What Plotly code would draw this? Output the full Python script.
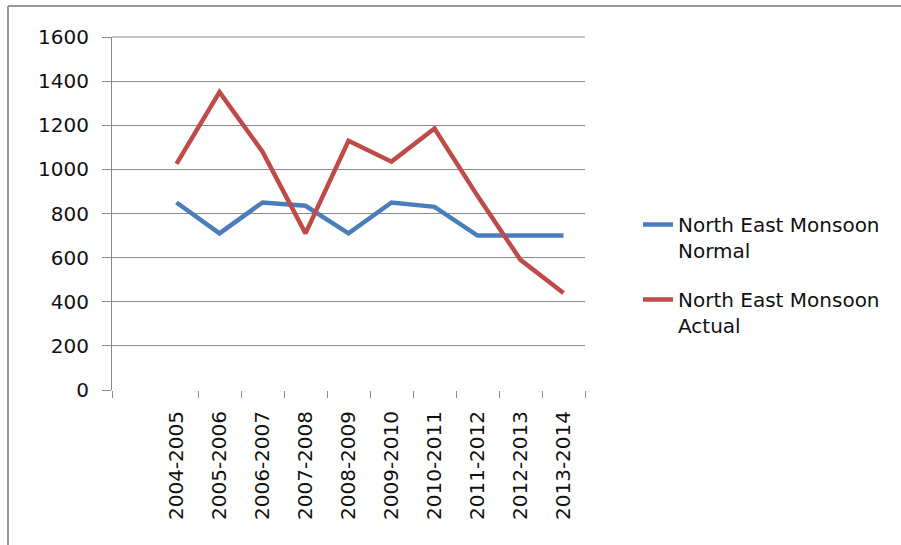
import plotly.graph_objects as go

seasons = ["2004-2005", "2005-2006", "2006-2007", "2007-2008", "2008-2009",
           "2009-2010", "2010-2011", "2011-2012", "2012-2013", "2013-2014"]
normal = [850, 710, 850, 835, 710, 850, 830, 700, 700, 700]
actual = [1025, 1350, 1080, 710, 1130, 1035, 1185, 880, 590, 440]

# numeric positions (first slot left empty as in the original chart)
xpos = list(range(1, len(seasons) + 1))

W, H = 901, 545
L, R, T, B = 112, 316, 37, 155
pw, ph = W - L - R, H - T - B

def px_x(x):
    return (x - L) / pw

def px_y(y):
    return (H - B - y) / ph

grid = "#8a8a8a"
font = "DejaVu Sans"

fig = go.Figure()
fig.add_trace(go.Scatter(x=xpos, y=normal, mode="lines",
                         name="North East Monsoon<br>Normal",
                         line=dict(color="#4A7EBB", width=4.5),
                         legendgroup="a"))
fig.add_trace(go.Scatter(x=xpos, y=actual, mode="lines",
                         name="North East Monsoon<br>Actual",
                         line=dict(color="#BE4B48", width=4.5),
                         legendgroup="b"))
# invisible trace for boundary tick marks on an overlay axis
fig.add_trace(go.Scatter(x=[-0.5], y=[0], xaxis="x2", mode="markers",
                         marker=dict(opacity=0), showlegend=False,
                         hoverinfo="skip"))

tick_bounds = [-0.5] + [i + 0.5 for i in range(1, len(seasons) + 1)]

fig.update_layout(
    width=W, height=H,
    margin=dict(l=L, r=R, t=T, b=B),
    paper_bgcolor="white", plot_bgcolor="white",
    font=dict(family=font, size=20, color="#111"),
    xaxis=dict(range=[-0.5, len(seasons) + 0.5], tickmode="array",
               tickvals=xpos, ticktext=seasons, tickangle=-90,
               showgrid=False, zeroline=False, showline=False, ticks="",
               ticklabelstandoff=16,
               tickfont=dict(family=font, size=20, color="#111")),
    xaxis2=dict(range=[-0.5, len(seasons) + 0.5], overlaying="x",
                anchor="y", side="bottom", tickmode="array",
                tickvals=tick_bounds, showticklabels=False,
                ticks="outside", ticklen=7, tickcolor=grid, tickwidth=1,
                showgrid=False, zeroline=False, showline=False),
    yaxis=dict(range=[0, 1600], dtick=200, showgrid=True, gridcolor=grid,
               gridwidth=1, zeroline=False, showline=True, linecolor=grid,
               linewidth=1, ticks="outside", ticklen=9, tickcolor=grid,
               ticklabelstandoff=9,
               tickfont=dict(family=font, size=20, color="#111")),
    legend=dict(x=px_x(638), y=px_y(205), xanchor="left", yanchor="top",
                traceorder="grouped", tracegroupgap=20, valign="top",
                font=dict(family=font, size=20, color="#111"),
                bgcolor="rgba(0,0,0,0)"),
    showlegend=True,
)

# top gridline at the edge of the plot area
fig.add_shape(type="line", xref="paper", yref="paper",
              x0=0, x1=1, y0=1, y1=1, layer="below",
              line=dict(color=grid, width=1))
# outer chart frame (top and left edges visible)
fig.add_shape(type="line", xref="paper", yref="paper",
              x0=px_x(8), x1=px_x(W), y0=px_y(6), y1=px_y(6),
              line=dict(color="#999999", width=2))
fig.add_shape(type="line", xref="paper", yref="paper",
              x0=px_x(8), x1=px_x(8), y0=px_y(6), y1=px_y(H),
              line=dict(color="#999999", width=2))

fig.write_html("out.html", config={"displayModeBar": False},
               post_script="document.body.style.margin='0px';")
